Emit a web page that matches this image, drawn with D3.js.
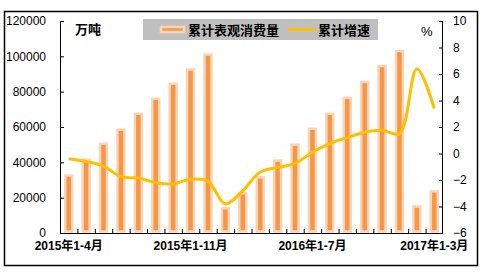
<!DOCTYPE html>
<html>
<head>
<meta charset="utf-8">
<script src="https://cdn.jsdelivr.net/npm/d3@7"></script>
<style>
  body { margin: 0; background: #fff; }
  svg text { font-family: Arial, "Liberation Sans", "Noto Sans CJK SC", sans-serif; }
</style>
</head>
<body>
<div id="chart"></div>
<script>
var months = ["2015年1-4月", "2015年1-5月", "2015年1-6月", "2015年1-7月", "2015年1-8月", "2015年1-9月",
    "2015年1-10月", "2015年1-11月", "2015年1-12月", "2016年1-2月", "2016年1-3月", "2016年1-4月",
    "2016年1-5月", "2016年1-6月", "2016年1-7月", "2016年1-8月", "2016年1-9月", "2016年1-10月",
    "2016年1-11月", "2016年1-12月", "2017年1-2月", "2017年1-3月"];
var consumption = [32500, 41500, 50500, 58500, 67500, 76000, 84500, 92500, 101000, 14000, 22500,
    31500, 41000, 50000, 59000, 67500, 76500, 85500, 94500, 103000, 15000, 23500];
var growth = [-0.4, -0.6, -0.95, -1.75, -1.85, -2.2, -2.3, -1.95, -2.1, -3.8, -2.8, -1.4, -1.05,
    -0.75, 0.1, 0.75, 1.2, 1.6, 1.75, 1.5, 6.4, 3.4];
var leftTicks = [0, 20000, 40000, 60000, 80000, 100000, 120000];
var rightTicks = [-6, -4, -2, 0, 2, 4, 6, 8, 10];
var shownLabels = ["2015年1-4月", "2015年1-11月", "2016年1-7月", "2017年1-3月"];

var width = 481, height = 276;
var plotLeft = 60, plotRight = 443, plotTop = 21, plotBottom = 233;

var svg = d3.select("#chart")
    .append("svg")
    .attr("width", width)
    .attr("height", height);

// outer frame
svg.append("rect")
    .attr("x", 4.5).attr("y", 11.5)
    .attr("width", 473).attr("height", 254)
    .attr("fill", "none")
    .attr("stroke", "#000")
    .attr("stroke-width", 1.5);

var x = d3.scaleBand()
    .domain(months)
    .range([plotLeft, plotRight]);

var yLeft = d3.scaleLinear()
    .domain([0, 120000])
    .range([plotBottom, plotTop]);

var yRight = d3.scaleLinear()
    .domain([-6, 10])
    .range([plotBottom, plotTop]);

// bars
var barW = 7;
svg.append("g").selectAll("rect")
    .data(consumption)
    .enter().append("rect")
    .attr("x", function (d, i) { return x(months[i]) + x.bandwidth() / 2 - barW / 2; })
    .attr("y", function (d) { return yLeft(d); })
    .attr("width", barW)
    .attr("height", function (d) { return plotBottom - 1.5 - yLeft(d); })
    .attr("fill", "#F79646")
    .attr("stroke", "#FBD5B8")
    .attr("stroke-width", 2.5);

// growth line
var line = d3.line()
    .x(function (d, i) { return x(months[i]) + x.bandwidth() / 2; })
    .y(function (d) { return yRight(d); })
    .curve(d3.curveCatmullRom.alpha(0.5));

svg.append("path")
    .datum(growth)
    .attr("d", line)
    .attr("fill", "none")
    .attr("stroke", "#FFC000")
    .attr("stroke-width", 3);

// axes
var axisLeft = d3.axisRight(yLeft)
    .tickValues(leftTicks)
    .tickSize(4)
    .tickFormat(d3.format("d"));
var gl = svg.append("g")
    .attr("transform", "translate(" + plotLeft + ",0)")
    .call(axisLeft);
gl.select(".domain").attr("d", "M0.5," + plotTop + "V" + plotBottom);
gl.selectAll("text")
    .attr("x", -14)
    .attr("text-anchor", "end")
    .attr("font-size", 12)
    .attr("fill", "#000");

var axisRight = d3.axisLeft(yRight)
    .tickValues(rightTicks)
    .tickSize(4);
var gr = svg.append("g")
    .attr("transform", "translate(" + plotRight + ",0)")
    .call(axisRight);
gr.select(".domain").attr("d", "M-0.5," + plotTop + "V" + plotBottom);
gr.selectAll("text")
    .attr("x", 10)
    .attr("text-anchor", "start")
    .attr("font-size", 12)
    .attr("fill", "#000");

var axisBottom = d3.axisTop(x)
    .tickSize(4)
    .tickFormat(function (d) { return ""; });
var gb = svg.append("g")
    .attr("transform", "translate(0," + plotBottom + ")")
    .call(axisBottom);
gb.select(".domain").attr("d", "M" + plotLeft + ",0.5H" + plotRight);
gb.selectAll(".tick").attr("transform", function (d) {
    return "translate(" + (x(d) + 0.5) + ",0)";
});
gb.append("line")
    .attr("x1", plotRight - 0.5).attr("x2", plotRight - 0.5)
    .attr("y1", 0).attr("y2", -4)
    .attr("stroke", "#000");

svg.append("g").selectAll("text")
    .data(shownLabels)
    .enter().append("text")
    .attr("x", function (d) { return x(d) + x.bandwidth() / 2; })
    .attr("y", 250)
    .attr("text-anchor", "middle")
    .attr("font-size", 12)
    .attr("font-weight", "bold")
    .text(function (d) { return d; });

// unit labels
svg.append("text")
    .attr("x", 75).attr("y", 34)
    .attr("font-size", 13)
    .attr("font-weight", "bold")
    .text("万吨");
svg.append("text")
    .attr("x", 421).attr("y", 36)
    .attr("font-size", 13)
    .text("%");

// legend
var legend = svg.append("g");
legend.append("rect")
    .attr("x", 143).attr("y", 19)
    .attr("width", 235).attr("height", 21)
    .attr("fill", "#BFBFBF");
legend.append("rect")
    .attr("x", 161).attr("y", 27)
    .attr("width", 23).attr("height", 5)
    .attr("fill", "#F79646")
    .attr("stroke", "#FBD5B8")
    .attr("stroke-width", 2.5);
legend.append("text")
    .attr("x", 188).attr("y", 35)
    .attr("font-size", 13)
    .attr("font-weight", "bold")
    .text("累计表观消费量");
legend.append("line")
    .attr("x1", 288).attr("x2", 315)
    .attr("y1", 29.5).attr("y2", 29.5)
    .attr("stroke", "#FFC000")
    .attr("stroke-width", 3);
legend.append("text")
    .attr("x", 318).attr("y", 35)
    .attr("font-size", 13)
    .attr("font-weight", "bold")
    .text("累计增速");
</script>
</body>
</html>
